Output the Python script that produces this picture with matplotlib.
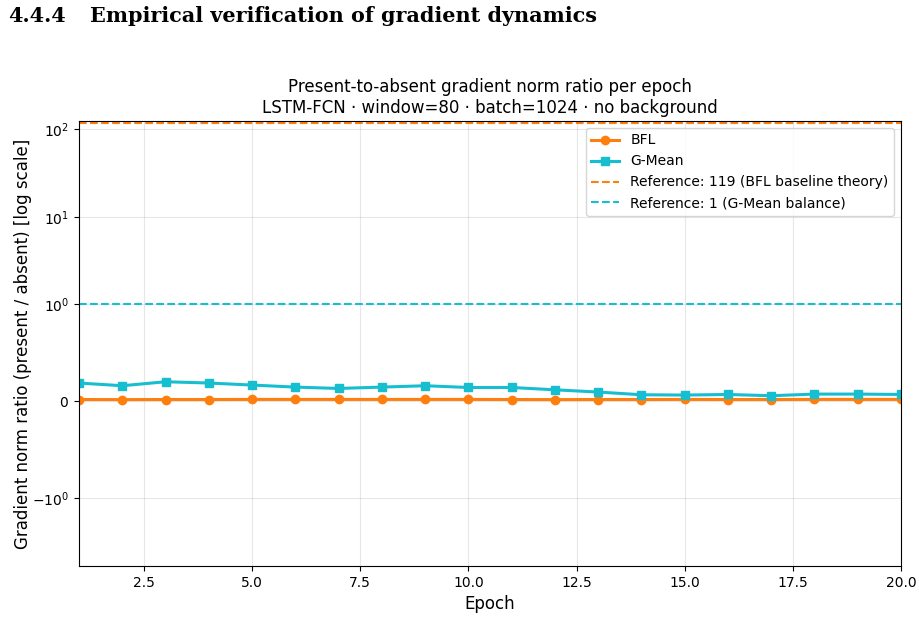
import matplotlib
matplotlib.use('Agg')
import matplotlib.pyplot as plt
import numpy as np

epochs = np.arange(1, 21)
bfl = [0.016, 0.015, 0.016, 0.016, 0.017, 0.017, 0.017, 0.017, 0.017, 0.017,
       0.016, 0.015, 0.016, 0.016, 0.017, 0.016, 0.016, 0.017, 0.017, 0.017]
gmean = [0.186, 0.158, 0.199, 0.186, 0.165, 0.144, 0.130, 0.144, 0.158, 0.140,
         0.140, 0.116, 0.093, 0.065, 0.062, 0.068, 0.055, 0.072, 0.072, 0.068]
ref_bfl = 119
ref_gmean = 1

orange = '#ff7f0e'
cyan = '#17becf'

fig = plt.figure(figsize=(9.2, 6.42), dpi=100)
ax = fig.add_axes([79 / 920, 1 - 566 / 642, (901 - 79) / 920, (566 - 121) / 642])

# section heading, sized so its width matches the page
num = fig.text(8 / 920, 1 - 16 / 642, '4.4.4', fontsize=13.5, va='center', ha='left',
               family='DejaVu Serif', weight='bold')
head = fig.text(90 / 920, 1 - 16 / 642, 'Empirical verification of gradient dynamics',
                fontsize=13.5, va='center', ha='left', family='DejaVu Serif', weight='bold')
fig.canvas.draw()
w = head.get_window_extent().width
fs = 13.5 * 505 / w
head.set_fontsize(fs)
num.set_fontsize(fs)

ax.plot(epochs, bfl, color=orange, marker='o', lw=2.2, ms=6, label='BFL')
ax.plot(epochs, gmean, color=cyan, marker='s', lw=2.2, ms=6, label='G-Mean')
ax.axhline(ref_bfl, color=orange, ls='--', lw=1.5, label='Reference: 119 (BFL baseline theory)')
ax.axhline(ref_gmean, color=cyan, ls='--', lw=1.5, label='Reference: 1 (G-Mean balance)')

ax.set_yscale('symlog', linthresh=1, linscale=1)
ax.set_xlim(1, 20)
ax.set_ylim(-6, 125)
ax.grid(True, alpha=0.3)

ax.set_xlabel('Epoch', fontsize=12)
ax.set_ylabel('Gradient norm ratio (present / absent) [log scale]', fontsize=12, labelpad=0)
ax.set_title('Present-to-absent gradient norm ratio per epoch\n'
             'LSTM-FCN · window=80 · batch=1024 · no background', fontsize=12)
ax.legend(loc='upper right', fontsize=10)

fig.savefig('out.png', dpi=100)
